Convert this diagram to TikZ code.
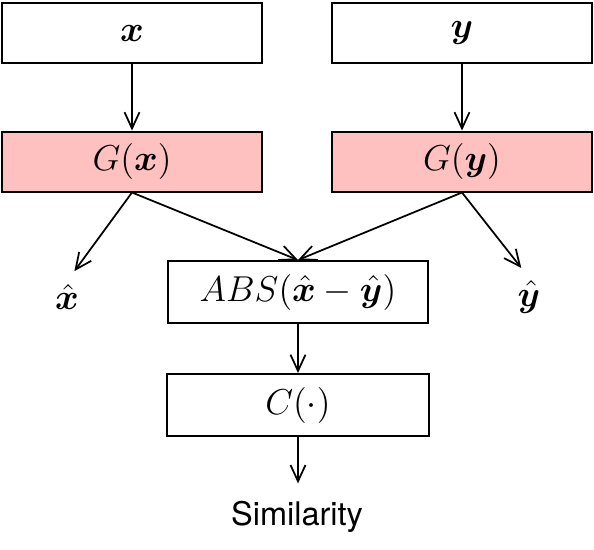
\documentclass[tikz,border=0pt]{standalone}
\usepackage{fontspec}
\usepackage{bm}
\setsansfont{TeX Gyre Heros}
\usetikzlibrary{arrows.meta}
\definecolor{gpink}{RGB}{255,192,192}
\tikzset{
	blk/.style={draw, line width=0.8pt, minimum width=104pt, minimum height=24pt, inner sep=0pt, font=\fontsize{15}{18}\selectfont},
	gblk/.style={blk, fill=gpink},
	lbl/.style={inner sep=1pt, font=\fontsize{15}{18}\selectfont},
	arr/.style={line width=0.7pt, -{Straight Barb[length=6.5pt,width=6pt]}}
}

\begin{document}
\begin{tikzpicture}[x=0.4pt, y=-0.4pt]
		%%%%% START %%%%%
		\useasboundingbox (0, 0) rectangle (594, 549);
		
		\node[blk] (inx) at (132, 33) {$\bm{x}$};
		\node[blk] (iny) at (462, 33) {$\bm{y}$};
		
		\node[gblk] (gx) at (132, 161.5) {$G(\bm{x})$};
		\node[gblk] (gy) at (462, 161.5) {$G(\bm{y})$};
		
		\node[lbl] (xhat) at (67, 297) {$\hat{\bm{x}}$};
		\node[lbl] (yhat) at (529, 297) {$\hat{\bm{y}}$};
		
		\node[blk, minimum height=24.8pt] (abs) at (298, 292) {$ABS(\hat{\bm{x}}-\hat{\bm{y}})$};
		\node[blk, minimum width=104.8pt, minimum height=24.8pt] (cls) at (298, 405) {$C(\cdot)$};
		
		\node[lbl, font=\fontsize{13}{15}\selectfont\sffamily] (sim) at (297, 517) {Similarity};
		
		\draw[arr] (inx) -- (gx);
		\draw[arr] (iny) -- (gy);
		
		\draw[arr, shorten >=5pt] (gx.south) -- (xhat.north);
		\draw[arr, shorten >=5pt] (gy.south) -- (yhat.north);
		\draw[arr] (gx.south) -- (abs.north);
		\draw[arr] (gy.south) -- (abs.north);
		
		\draw[arr] (abs) -- (cls);
		\draw[arr, shorten >=6pt] (cls.south) -- (cls.south |- sim.north);
		%%%%% END %%%%%
\end{tikzpicture}
\end{document}
